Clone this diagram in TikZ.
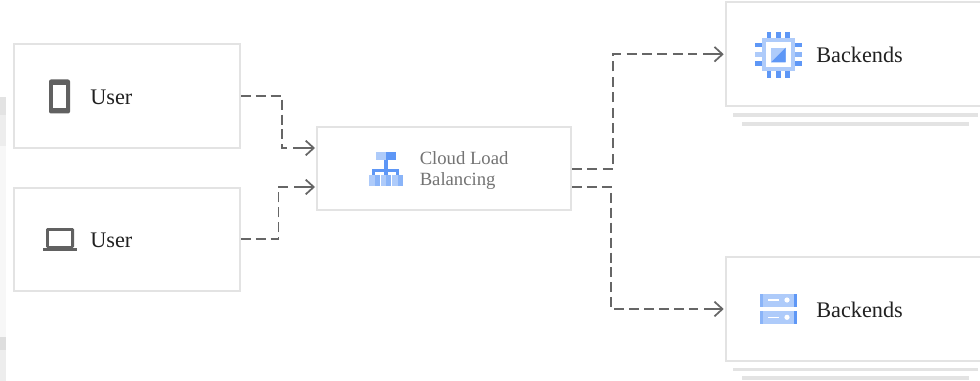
\documentclass[tikz,border=0pt]{standalone}
\usepackage{fontspec}
\setmainfont{Liberation Serif}
\usetikzlibrary{arrows.meta}
\definecolor{edgegray}{HTML}{E3E3E3}
\definecolor{linegray}{HTML}{666666}
\definecolor{icongray}{HTML}{616161}
\definecolor{lblue}{HTML}{AECBFA}
\definecolor{mblue}{HTML}{8AB4F8}
\definecolor{dblue}{HTML}{5E97F6}
\tikzset{
  x=0.75pt,y=-0.75pt,
  boxnode/.style={draw=edgegray,line width=1.5pt,fill=white,inner sep=0,minimum width=#1},
  ghost/.style={inner sep=0,minimum width=254*0.75pt,minimum height=103.5*0.75pt},
  mainlabel/.style={anchor=west,inner sep=0,font=\fontsize{16.7pt}{20pt}\selectfont,text=black!87},
  lblabel/.style={anchor=west,inner sep=0,align=left,font=\fontsize{14pt}{15.8pt}\selectfont,text=black!55},
  link/.style={draw=linegray,line width=1.3pt,dash pattern=on 7.5pt off #1},
  linkarrow/.style={draw=linegray,line width=1.3pt,-{Straight Barb[length=6pt,width=11pt,line width=1.3pt]},shorten >=1.5pt},
  rule/.style={draw=edgegray,line width=2.3pt}
}
\begin{document}
\begin{tikzpicture}
\useasboundingbox (0,0) rectangle (980,381);
% left page strip
\fill[white] (0,0) rectangle (980,381);
\fill[black!3] (0,97) rectangle (6,337);
\fill[black!11] (0,97) rectangle (6,115);
\fill[black!7] (0,115) rectangle (6,146);
\fill[black!13] (0,337) rectangle (6,350);
\fill[black!7] (0,350) rectangle (6,381);
% boxes
\node[boxnode=226.5*0.75pt,minimum height=103.5*0.75pt] (u1) at (126.75,96.25) {};
\node[boxnode=226.5*0.75pt,minimum height=103.5*0.75pt] (u2) at (126.75,239.25) {};
\node[boxnode=254*0.75pt,minimum height=83*0.75pt] (lb) at (444,168.5) {};
\node[ghost] (b1) at (853,54.25) {};
\node[ghost] (b2) at (853,309) {};
\draw[edgegray,line width=1.5pt] (980,2.5) -- (726,2.5) -- (726,106) -- (980,106);
\draw[edgegray,line width=1.5pt] (980,257.25) -- (726,257.25) -- (726,360.75) -- (980,360.75);
\draw[rule] (733,115) -- (978,115);
\draw[rule] (742,124) -- (969,124);
\draw[rule] (733,369.5) -- (978,369.5);
\draw[rule] (742,378) -- (969,378);
% texts
\node[mainlabel] (t1) at (90,97) {User};
\node[mainlabel] (t2) at (90,240) {User};
\node[lblabel] (t3) at (419.5,170.5) {Cloud Load\\Balancing};
\node[mainlabel] (t4) at (816,55) {Backends};
\node[mainlabel] (t5) at (816,310) {Backends};
% connectors
\coordinate (a1) at (282,96.25);
\coordinate (a2) at (282,148);
\coordinate (a3) at (287,148);
\coordinate (a4) at (293,148);
\coordinate (a5) at (317,148);
\coordinate (c1) at (278.5,239.25);
\coordinate (c2) at (278.5,187);
\coordinate (c3) at (288,187);
\coordinate (c4) at (294,187);
\coordinate (c5) at (317,187);
\coordinate (d1) at (613,169);
\coordinate (d2) at (613,54.25);
\coordinate (d3) at (697,54.25);
\coordinate (d4) at (703,54.25);
\coordinate (e1) at (611,187);
\coordinate (e2) at (611,309);
\coordinate (e3) at (698,309);
\coordinate (e4) at (704,309);
\coordinate (s1) at (lb.east |- d1);
\coordinate (s2) at (lb.east |- e1);
\draw[link=3.62pt] (u1.east) -- (a1) -- (a2) -- (a3);
\draw[linkarrow] (a4) -- (a5);
\draw[link=3.64pt] (u2.east) -- (c1) -- (c2) -- (c3);
\draw[linkarrow] (c4) -- (c5);
\draw[link=4.05pt] (s1) -- (d1) -- (d2) -- (d3);
\draw[linkarrow] (d4) -- (b1.west);
\draw[link=3.7pt] (s2) -- (e1) -- (e2) -- (e3);
\draw[linkarrow] (e4) -- (b2.west);
% tablet
\fill[icongray,rounded corners=1.5pt] (49,79.5) rectangle (70,113.5);
\fill[white] (53,85) rectangle (66,108);
% laptop
\fill[icongray,rounded corners=1pt] (46,228) rectangle (74,248);
\fill[white] (48.7,231) rectangle (71.3,245.5);
\fill[icongray] (43,247.5) rectangle (77,251);
% load balancing icon
\fill[lblue] (375.7,152) rectangle (386,160);
\fill[dblue] (386,152) rectangle (396,160);
\fill[dblue] (384.3,160) rectangle (387.7,175);
\fill[dblue] (372.3,168.7) rectangle (399.3,171.7);
\fill[dblue] (372.3,170) rectangle (375.3,175);
\fill[dblue] (396.3,170) rectangle (399.3,175);
\fill[lblue] (369,175) rectangle (374.5,185.7);
\fill[mblue] (374.5,175) rectangle (379.7,185.7);
\fill[lblue] (380.8,175) rectangle (386,185.7);
\fill[mblue] (386,175) rectangle (391,185.7);
\fill[lblue] (392.3,175) rectangle (397.5,185.7);
\fill[mblue] (397.5,175) rectangle (402.7,185.7);
% chip icon
\fill[lblue] (761.7,37.7) rectangle (795,71);
\fill[white] (765.7,41.7) rectangle (791,67);
\fill[lblue] (771,47.7) rectangle (785.7,62.3);
\fill[dblue] (785.7,47.7) -- (785.7,62.3) -- (771,62.3) -- cycle;
\foreach \px in {766.7,776,785.3}{
  \fill[dblue] (\px,31.7) rectangle ++(4.7,6);
  \fill[dblue] (\px,71) rectangle ++(4.7,6.7);
}
\fill[dblue] (755,42.7) rectangle ++(6.7,4.6);
\fill[lblue] (755,52) rectangle ++(6.7,4.7);
\fill[dblue] (755,61.3) rectangle ++(6.7,4.7);
\fill[dblue] (795,42.7) rectangle ++(6.7,4.6);
\fill[mblue] (795,52) rectangle ++(6.7,4.7);
\fill[dblue] (795,61.3) rectangle ++(6.7,4.7);
% server icon
\foreach \ty/\by/\my in {294/306.7/300,310.7/324/317.3}{
  \fill[lblue] (760,\ty) rectangle (797.3,\by);
  \fill[mblue] (760,\ty) rectangle (763.3,\by);
  \fill[dblue] (794,\ty) rectangle (797.3,\by);
  \fill[white] (767.7,\my-0.8) rectangle (779,\my+0.8);
  \fill[white] (787,\my) circle[radius=2.6];
}
\end{tikzpicture}
\end{document}
